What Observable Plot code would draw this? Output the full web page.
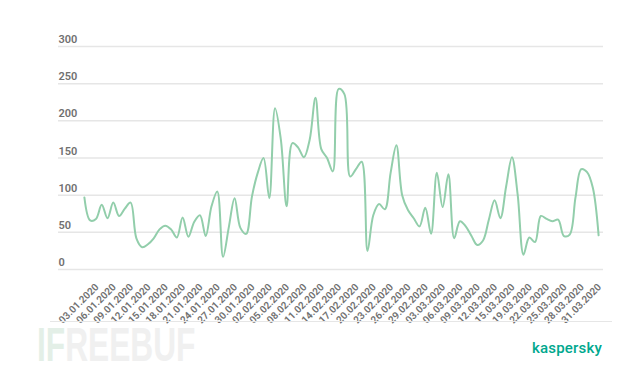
<!DOCTYPE html>
<html>
<head>
<meta charset="utf-8">
<script src="https://cdn.jsdelivr.net/npm/d3@7"></script>
<script src="https://cdn.jsdelivr.net/npm/@observablehq/plot@0.6"></script>
<style>
  body { margin: 0; background: #fff; font-family: Roboto, "Noto Sans", sans-serif; }
  #wrap { position: relative; width: 626px; height: 370px; overflow: hidden; background: #fff; }
  #chart { position: absolute; left: 0; top: 0; }
  #bottomline { position: absolute; left: 50px; top: 321px; width: 562px; height: 1px; background: #e6e6e6; }
  #brand { position: absolute; left: 532px; top: 339px; font-size: 15px; font-weight: 500; color: #00a88e; letter-spacing: 0.2px; }
  #wm { position: absolute; left: 37px; top: 323px; font-size: 48px; line-height: 44px; font-weight: 700; color: #f0f0f0; font-family: "Liberation Sans", "DejaVu Sans", sans-serif; transform: scaleX(0.66); transform-origin: left top; white-space: nowrap; }
  #wm span { color: #e3efe7; }
</style>
</head>
<body>
<div id="wrap">
  <div id="wm"><span>IF</span>REEBUF</div>
  <div id="chart"></div>
  <div id="bottomline"></div>
  <div id="brand">kaspersky</div>
</div>
<script>
const dates = [
  "01.01.2020","02.01.2020","03.01.2020","04.01.2020","05.01.2020","06.01.2020","07.01.2020","08.01.2020","09.01.2020","10.01.2020",
  "11.01.2020","12.01.2020","13.01.2020","14.01.2020","15.01.2020","16.01.2020","17.01.2020","18.01.2020","19.01.2020","20.01.2020",
  "21.01.2020","22.01.2020","23.01.2020","24.01.2020","25.01.2020","26.01.2020","27.01.2020","28.01.2020","29.01.2020","30.01.2020",
  "31.01.2020","01.02.2020","02.02.2020","03.02.2020","04.02.2020","05.02.2020","06.02.2020","07.02.2020","08.02.2020","09.02.2020",
  "10.02.2020","11.02.2020","12.02.2020","13.02.2020","14.02.2020","15.02.2020","16.02.2020","17.02.2020","18.02.2020","19.02.2020",
  "20.02.2020","21.02.2020","22.02.2020","23.02.2020","24.02.2020","25.02.2020","26.02.2020","27.02.2020","28.02.2020","29.02.2020",
  "01.03.2020","02.03.2020","03.03.2020","04.03.2020","05.03.2020","06.03.2020","07.03.2020","08.03.2020","09.03.2020","10.03.2020",
  "11.03.2020","12.03.2020","13.03.2020","14.03.2020","15.03.2020","16.03.2020","17.03.2020","19.03.2020","20.03.2020","21.03.2020",
  "22.03.2020","23.03.2020","24.03.2020","25.03.2020","26.03.2020","27.03.2020","28.03.2020","29.03.2020","30.03.2020","31.03.2020"
];
const values = [
  97, 66, 68, 87, 69, 90, 72, 82, 90, 42,
  30, 34, 42, 54, 59, 54, 43, 70, 44, 64,
  73, 45, 85, 105, 17, 57, 96, 56, 48, 98,
  130, 150, 96, 217, 175, 85, 170, 164, 151, 175,
  231, 162, 150, 132, 243, 236, 125, 135, 145, 25,
  73, 88, 81, 130, 167, 100, 80, 69, 58, 83,
  48, 130, 84, 128, 42, 65, 58, 45, 33, 39,
  67, 93, 69, 112, 151, 100, 20, 43, 37, 72,
  68, 65, 67, 45, 47, 97, 135, 131, 110, 46
];
const xTickLabels = [
  "03.01.2020","06.01.2020","09.01.2020","12.01.2020","15.01.2020","18.01.2020","21.01.2020","24.01.2020","27.01.2020","30.01.2020",
  "02.02.2020","05.02.2020","08.02.2020","11.02.2020","14.02.2020","17.02.2020","20.02.2020","23.02.2020","26.02.2020","29.02.2020",
  "03.03.2020","06.03.2020","09.03.2020","12.03.2020","15.03.2020","19.03.2020","22.03.2020","25.03.2020","28.03.2020","31.03.2020"
];
const yTicks = [0, 50, 100, 150, 200, 250, 300];

const data = dates.map((d, i) => ({date: d, value: values[i]}));

const chart = Plot.plot({
  width: 626,
  height: 330,
  marginLeft: 58,
  marginRight: 23,
  marginTop: 46,
  marginBottom: 61,
  style: {fontFamily: "Roboto, sans-serif", background: "transparent", overflow: "visible"},
  x: {type: "point", domain: dates, insetLeft: 23, insetRight: 2, label: null},
  y: {domain: [0, 300], label: null},
  marks: [
    Plot.gridY(yTicks, {stroke: "#e6e6e6", strokeOpacity: 1, strokeWidth: 1.5}),
    Plot.axisY(yTicks, {tickSize: 0, tickPadding: 0, textAnchor: "start", dy: -7, fontSize: 11, fontWeight: 600, fill: "#707070", label: null}),
    Plot.axisX(xTickLabels, {tickSize: 0, tickRotate: -45, dx: 1, dy: 4, fontSize: 10, fontWeight: 600, fill: "#707070", label: null}),
    Plot.lineY(data, {x: "date", y: "value", curve: "catmull-rom", stroke: "#92ceab", strokeWidth: 2})
  ]
});
document.getElementById("chart").appendChild(chart);
</script>
</body>
</html>
